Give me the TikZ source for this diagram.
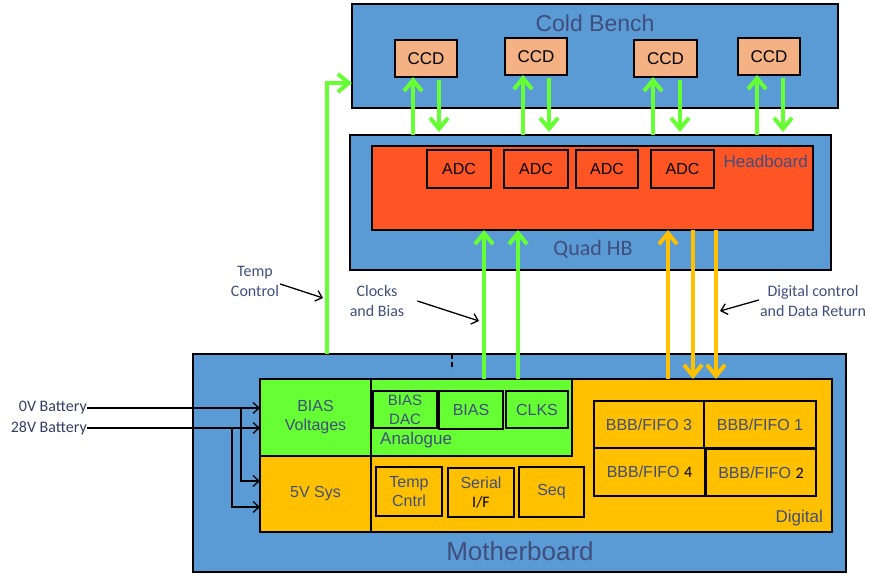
\documentclass[tikz,border=0pt]{standalone}
\usepackage{fontspec}
\setmainfont{Liberation Sans}
\newfontfamily\calfont{Carlito}
\usetikzlibrary{arrows.meta,positioning,calc}
\definecolor{mbblue}{HTML}{5B9BD5}
\definecolor{grn}{HTML}{66FF33}
\definecolor{orng}{HTML}{FFC000}
\definecolor{hbred}{HTML}{FF5525}
\definecolor{peach}{HTML}{F4B183}
\definecolor{slate}{HTML}{404E7C}
\begin{document}
\begin{tikzpicture}[x=1pt,y=-1pt,
 board/.style={draw=black,line width=1.3pt,inner sep=0pt,outer sep=0pt},
 chip/.style={board,font=\fontsize{16}{19}\selectfont,align=center},
 label/.style={text=slate,inner sep=0pt},
 note/.style={text=slate,font=\calfont\fontsize{16}{20}\selectfont,align=center,inner sep=1pt},
 garrow/.style={draw=grn,line width=4pt,-{Straight Barb[length=11pt,width=18pt]}},
 oarrow/.style={draw=orng,line width=4pt,-{Straight Barb[length=11pt,width=18pt]}},
 barrow/.style={draw=black,line width=1.3pt,-{Straight Barb[length=6pt,width=11pt]}}]
\useasboundingbox (0,0) rectangle (869,575);
% boxes
\begin{scope}
\node[board,fill=mbblue,minimum width=486,minimum height=104] (cb) at (595,56) {};
\node[board,fill=mbblue,minimum width=481,minimum height=135] (qhb) at (590.5,202.5) {};
\node[board,fill=hbred,minimum width=441,minimum height=84] (hb) at (592.5,188) {};
\node[board,fill=mbblue,minimum width=653,minimum height=218] (mb) at (519.5,463) {};
\node[board,fill=orng,minimum width=461,minimum height=153] (dig) at (601.5,455.5) {};
\node[board,fill=grn,minimum width=201,minimum height=77] (ana) at (471.5,417.5) {};
\node[chip,fill=grn,text=slate,minimum width=111,minimum height=77] (bv) at (315.5,417.5) {BIAS\\Voltages};
\node[chip,fill=orng,text=slate,minimum width=111,minimum height=76] (sys) at (315.5,494) {5V Sys};
\end{scope}
\begin{scope}[every node/.style={chip,minimum height=37}]
\node[fill=peach,minimum width=62,font=\fontsize{17}{19}\selectfont] (ccd1) at (426,58.5) {CCD};
\node[fill=peach,minimum width=62,font=\fontsize{17}{19}\selectfont] (ccd2) at (536,56.5) {CCD};
\node[fill=peach,minimum width=63,font=\fontsize{17}{19}\selectfont] (ccd3) at (665.5,58.5) {CCD};
\node[fill=peach,minimum width=62,font=\fontsize{17}{19}\selectfont] (ccd4) at (769,56.5) {CCD};
\node[fill=hbred,minimum width=64,minimum height=38] (adc1) at (459,169) {ADC};
\node[fill=hbred,minimum width=64,minimum height=38] (adc2) at (536,169) {ADC};
\node[fill=hbred,minimum width=62,minimum height=38] (adc3) at (607,169) {ADC};
\node[fill=hbred,minimum width=63,minimum height=38] (adc4) at (682.5,169) {ADC};
\node[fill=grn,text=slate,minimum width=64,font=\fontsize{15}{19}\selectfont] (dac) at (405,409.5) {BIAS\\DAC};
\node[fill=grn,text=slate,minimum width=64,minimum height=38] (bias) at (471,410) {BIAS};
\node[fill=grn,text=slate,minimum width=62] (clks) at (537,409.5) {CLKS};
\node[fill=orng,text=slate,minimum width=66,minimum height=49] (tc) at (409,491.5) {Temp\\Cntrl};
\node[fill=orng,text=slate,minimum width=66,minimum height=49] (ser) at (481,492.5) {Serial\\{\calfont\color{black}I/F}};
\node[fill=orng,text=slate,minimum width=65,minimum height=50] (seq) at (551.5,492) {Seq};
\node[fill=orng,text=slate,minimum width=110,minimum height=47] (f3) at (649,424.5) {BBB/FIFO 3};
\node[fill=orng,text=slate,minimum width=112,minimum height=47] (f1) at (760,424.5) {BBB/FIFO 1};
\node[fill=orng,text=slate,minimum width=111,minimum height=48] (f4) at (649.5,472) {BBB/FIFO {\calfont\color{black}4}};
\node[fill=orng,text=slate,minimum width=110,minimum height=47] (f2) at (761,472.5) {BBB/FIFO {\calfont\color{black}2}};
\end{scope}
% titles
\node[label,font=\fontsize{23}{26}\selectfont] (tcb) at (595,23) {Cold Bench};
\node[label,font=\calfont\fontsize{22}{26}\selectfont] (tqhb) at (593,249) {Quad HB};
\node[label,font=\fontsize{17}{20}\selectfont,anchor=east] (thb) at (808,161) {Headboard};
\node[label,font=\fontsize{17}{20}\selectfont,anchor=west] (tana) at (380,440) {Analogue};
\node[label,font=\fontsize{17}{20}\selectfont,anchor=east] (tdig) at (823,518) {Digital};
\node[label,font=\fontsize{26}{30}\selectfont] (tmb) at (520,551) {Motherboard};
\draw[black,line width=1.5pt,dash pattern=on 5pt off 3pt] (mb.north -| 452,0) -- (452,370);
% ccd links
\foreach \u/\d/\c in {413/439/ccd1,523/549/ccd2,653/680/ccd3,757/783/ccd4}{
  \draw[garrow] (qhb.north -| \u,0) -- (\c.south -| \u,0);
  \draw[garrow,shorten <=3pt,shorten >=3pt] (\c.south -| \d,0) -- (qhb.north -| \d,0);
}
% board links
\draw[garrow] (ana.north -| 484,0) -- (hb.south -| 484,0);
\draw[garrow] (ana.north -| 518,0) -- (hb.south -| 518,0);
\draw[oarrow] (dig.north -| 668,0) -- (hb.south -| 668,0);
\draw[oarrow] (hb.south -| 693,0) -- (dig.north -| 693,0);
\draw[oarrow] (hb.south -| 716,0) -- (dig.north -| 716,0);
\draw[garrow] (mb.north -| 327,0) |- (cb.west |- 0,83);
% notes
\node[note] (tcl) at (255,281) {Temp\\Control};
\node[note] (cab) at (377,301) {Clocks\\and Bias};
\node[note] (dcl) at (813,301) {Digital control\\and Data Return};
\coordinate (tctip) at (323,298);
\coordinate (cabtip) at (479,321);
\coordinate (dcltip) at (720,311);
\draw[barrow] ([yshift=-3pt]tcl.east) -- (tctip);
\draw[barrow] ([xshift=12pt]cab.east) -- (cabtip);
\draw[barrow] ([yshift=1pt]dcl.west) -- (dcltip);
% battery
\node[note,text=slate!80!black,anchor=east,inner sep=0pt] (bat0) at (87,408) {0V Battery};
\node[note,text=slate!80!black,anchor=east,inner sep=0pt] (bat28) at (87,428) {28V Battery};
\draw[barrow] (bat0.east) -- (bv.west |- bat0.east);
\draw[barrow] (bat28.east) -- (bv.west |- bat28.east);
\draw[barrow] (bat0.east -| 241,0) |- (sys.west |- 0,481);
\draw[barrow] (bat28.east -| 232,0) |- (sys.west |- 0,507);
\end{tikzpicture}
\end{document}
